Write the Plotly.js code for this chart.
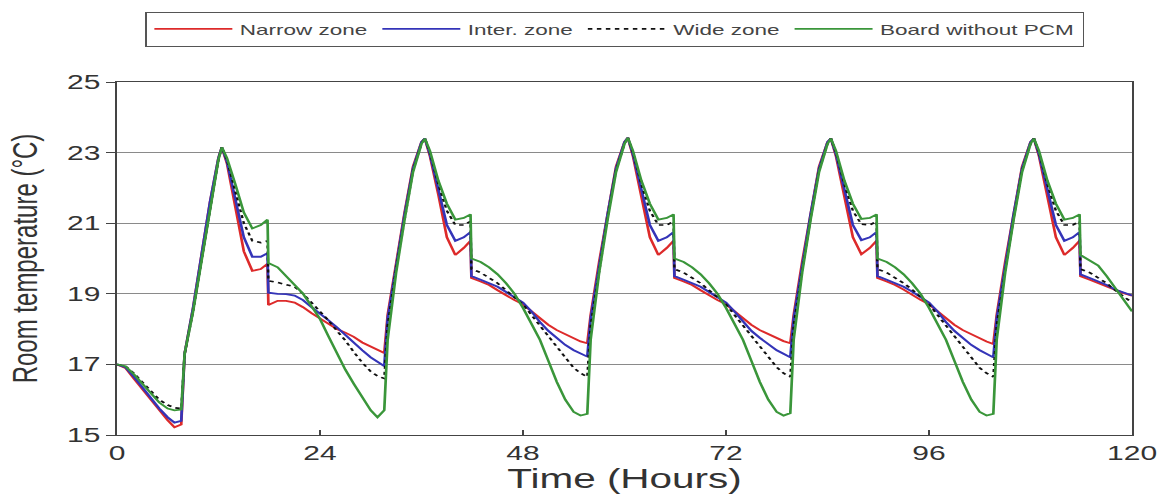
<!DOCTYPE html>
<html>
<head>
<meta charset="utf-8">
<script src="https://cdn.plot.ly/plotly-3.0.1.min.js"></script>
<style>
  html, body { margin: 0; padding: 0; background: #fff; overflow: hidden; }
  #chart { width: 781px; height: 497px; transform: scaleX(1.4994); transform-origin: 0 0; }
</style>
</head>
<body>
<div id="chart"></div>
<script>
// Time axis (hours)
const hours = [
  0,1,2,3,4,5,6,6.8,7.6,8,9,10,11,12,12.4,13,14,15,16,17,17.8,17.9,19,20,21,22,23,
  24,25,26,27,28,29,30,30.8,31.6,32,33,34,35,36,36.4,37,38,39,40,41,41.8,41.9,43,44,45,46,47,
  48,49,50,51,52,53,54,54.8,55.6,56,57,58,59,60,60.4,61,62,63,64,65,65.8,65.9,67,68,69,70,71,
  72,73,74,75,76,77,78,78.8,79.6,80,81,82,83,84,84.4,85,86,87,88,89,89.8,89.9,91,92,93,94,95,
  96,97,98,99,100,101,102,102.8,103.6,104,105,106,107,108,108.4,109,110,111,112,113,113.8,113.9,115,116,117,118,119,
  120
];

const narrowZone = [
  17.0,16.9,16.6,16.3,16.0,15.7,15.42,15.22,15.3,17.3,18.6,20.1,21.6,22.85,23.15,22.7,21.5,20.2,19.65,19.7,19.85,18.68,18.8,18.8,18.75,18.62,18.45,
  18.3,18.15,18.0,17.9,17.78,17.62,17.5,17.42,17.32,18.4,19.9,21.3,22.6,23.3,23.4,22.9,21.8,20.6,20.1,20.3,20.5,19.45,19.35,19.25,19.1,18.95,18.82,
  18.7,18.5,18.3,18.12,17.97,17.85,17.75,17.65,17.6,18.4,19.9,21.3,22.6,23.3,23.42,22.9,21.8,20.6,20.1,20.3,20.5,19.45,19.35,19.25,19.1,18.95,18.82,
  18.7,18.5,18.32,18.12,17.97,17.85,17.75,17.66,17.6,18.4,19.9,21.3,22.6,23.3,23.4,22.9,21.8,20.6,20.12,20.3,20.5,19.45,19.35,19.25,19.12,18.97,18.83,
  18.7,18.5,18.3,18.12,17.97,17.85,17.75,17.65,17.58,18.4,19.9,21.3,22.6,23.3,23.4,22.9,21.8,20.6,20.1,20.3,20.5,19.5,19.4,19.3,19.2,19.1,19.02,
  18.95
];

const interZone = [
  17.0,16.92,16.65,16.35,16.05,15.75,15.5,15.35,15.4,17.3,18.6,20.1,21.6,22.85,23.15,22.75,21.7,20.6,20.05,20.05,20.15,19.03,19.0,18.99,18.95,18.82,18.62,
  18.45,18.25,18.05,17.83,17.6,17.4,17.2,17.08,16.95,18.3,19.85,21.25,22.55,23.3,23.4,22.95,21.95,20.95,20.5,20.6,20.75,19.5,19.4,19.3,19.2,19.05,18.9,
  18.75,18.5,18.2,17.95,17.75,17.55,17.4,17.3,17.22,18.3,19.85,21.25,22.55,23.3,23.42,22.95,21.95,20.95,20.5,20.6,20.75,19.5,19.4,19.3,19.2,19.05,18.9,
  18.75,18.5,18.22,17.95,17.75,17.57,17.4,17.3,17.2,18.3,19.85,21.25,22.55,23.3,23.4,22.95,21.95,20.95,20.52,20.6,20.75,19.5,19.4,19.3,19.2,19.06,18.9,
  18.75,18.5,18.2,17.95,17.75,17.55,17.4,17.3,17.2,18.3,19.85,21.25,22.55,23.3,23.4,22.95,21.95,20.95,20.5,20.6,20.75,19.55,19.45,19.35,19.25,19.12,19.03,
  18.95
];

const wideZone = [
  17.0,16.95,16.75,16.5,16.25,16.0,15.85,15.77,15.75,17.3,18.5,20.0,21.5,22.8,23.15,22.8,21.9,21.0,20.5,20.45,20.5,19.37,19.32,19.27,19.2,19.0,18.75,
  18.5,18.25,17.95,17.68,17.35,17.05,16.8,16.67,16.6,18.1,19.7,21.15,22.5,23.25,23.4,23.0,22.1,21.35,20.95,20.95,21.05,19.7,19.6,19.45,19.3,19.1,18.9,
  18.7,18.4,18.1,17.8,17.5,17.2,16.9,16.75,16.65,18.1,19.7,21.15,22.5,23.25,23.42,23.0,22.1,21.35,20.95,20.95,21.05,19.7,19.6,19.45,19.3,19.1,18.9,
  18.7,18.4,18.1,17.8,17.5,17.2,16.92,16.75,16.65,18.1,19.7,21.15,22.5,23.25,23.4,23.0,22.1,21.35,20.97,20.95,21.05,19.7,19.6,19.45,19.3,19.12,18.9,
  18.7,18.4,18.1,17.8,17.5,17.2,16.9,16.75,16.65,18.1,19.7,21.15,22.5,23.25,23.4,23.0,22.1,21.35,20.95,20.95,21.05,19.7,19.6,19.45,19.3,19.1,18.92,
  18.75
];

const boardNoPCM = [
  17.0,16.95,16.72,16.45,16.18,15.92,15.75,15.7,15.72,17.3,18.5,20.0,21.5,22.8,23.15,22.85,22.1,21.3,20.85,20.95,21.1,19.87,19.75,19.5,19.25,19.0,18.65,
  18.29,17.8,17.3,16.85,16.45,16.05,15.7,15.5,15.7,17.7,19.6,21.1,22.45,23.25,23.4,23.05,22.2,21.55,21.1,21.15,21.25,20.0,19.9,19.75,19.55,19.3,19.0,
  18.6,18.15,17.7,17.1,16.5,16.0,15.65,15.55,15.6,17.7,19.6,21.1,22.45,23.25,23.42,23.05,22.2,21.55,21.1,21.15,21.25,20.0,19.9,19.75,19.55,19.3,19.0,
  18.6,18.15,17.7,17.1,16.5,16.0,15.65,15.55,15.62,17.7,19.6,21.1,22.45,23.25,23.4,23.05,22.2,21.55,21.12,21.15,21.25,20.0,19.9,19.75,19.55,19.3,19.0,
  18.6,18.15,17.7,17.1,16.5,16.0,15.65,15.55,15.6,17.7,19.6,21.1,22.45,23.25,23.4,23.05,22.2,21.55,21.1,21.15,21.25,20.1,19.95,19.8,19.5,19.15,18.8,
  18.5
];

const seriesNames = ["Narrow zone", "Inter. zone", "Wide zone", "Board without PCM"];
const xTicks = [0, 24, 48, 72, 96, 120];
const yTicks = [15, 17, 19, 21, 23, 25];

const font = "Liberation Sans, Arial, Helvetica, sans-serif";

const traces = [
  {x: hours, y: narrowZone, name: seriesNames[0], mode: "lines", line: {color: "#dd2a2a", width: 1.8}},
  {x: hours, y: interZone, name: seriesNames[1], mode: "lines", line: {color: "#3434b8", width: 1.8}},
  {x: hours, y: wideZone, name: seriesNames[2], mode: "lines", line: {color: "#111111", width: 1.6, dash: "dot"}},
  {x: hours, y: boardNoPCM, name: seriesNames[3], mode: "lines", line: {color: "#3a963a", width: 1.8}}
];

const layout = {
  width: 781,
  height: 497,
  margin: {l: 78, r: 26, t: 76, b: 62},
  paper_bgcolor: "#ffffff",
  plot_bgcolor: "#ffffff",
  font: {family: font, color: "#333333"},
  showlegend: true,
  legend: {
    orientation: "h",
    x: 0.028, xanchor: "left",
    y: 1.1003, yanchor: "bottom",
    bordercolor: "#555555", borderwidth: 1,
    bgcolor: "#ffffff",
    itemwidth: 52,
    font: {family: font, size: 15, color: "#444444"}
  },
  xaxis: {
    range: [0, 120],
    tickvals: xTicks,
    ticktext: xTicks.map(String),
    ticks: "inside", ticklen: 5, tickcolor: "#444444",
    showgrid: false, zeroline: false,
    showline: true, linecolor: "#444444", linewidth: 1, mirror: true,
    tickfont: {family: font, size: 20, color: "#333333"},
    title: {text: "Time (Hours)", font: {family: font, size: 27, color: "#333333"}, standoff: 2}
  },
  yaxis: {
    range: [15, 25],
    tickvals: yTicks,
    ticktext: yTicks.map(String),
    ticks: "outside", ticklen: 6, tickcolor: "#444444",
    showgrid: true, gridcolor: "#8a8a8a", gridwidth: 1,
    zeroline: false,
    showline: true, linecolor: "#444444", linewidth: 1, mirror: true,
    tickfont: {family: font, size: 20, color: "#333333"},
    title: {text: "Room temperature (°C)", font: {family: font, size: 24, color: "#333333"}, standoff: 12}
  }
};

Plotly.newPlot("chart", traces, layout, {displayModeBar: false, staticPlot: true});
</script>
</body>
</html>
